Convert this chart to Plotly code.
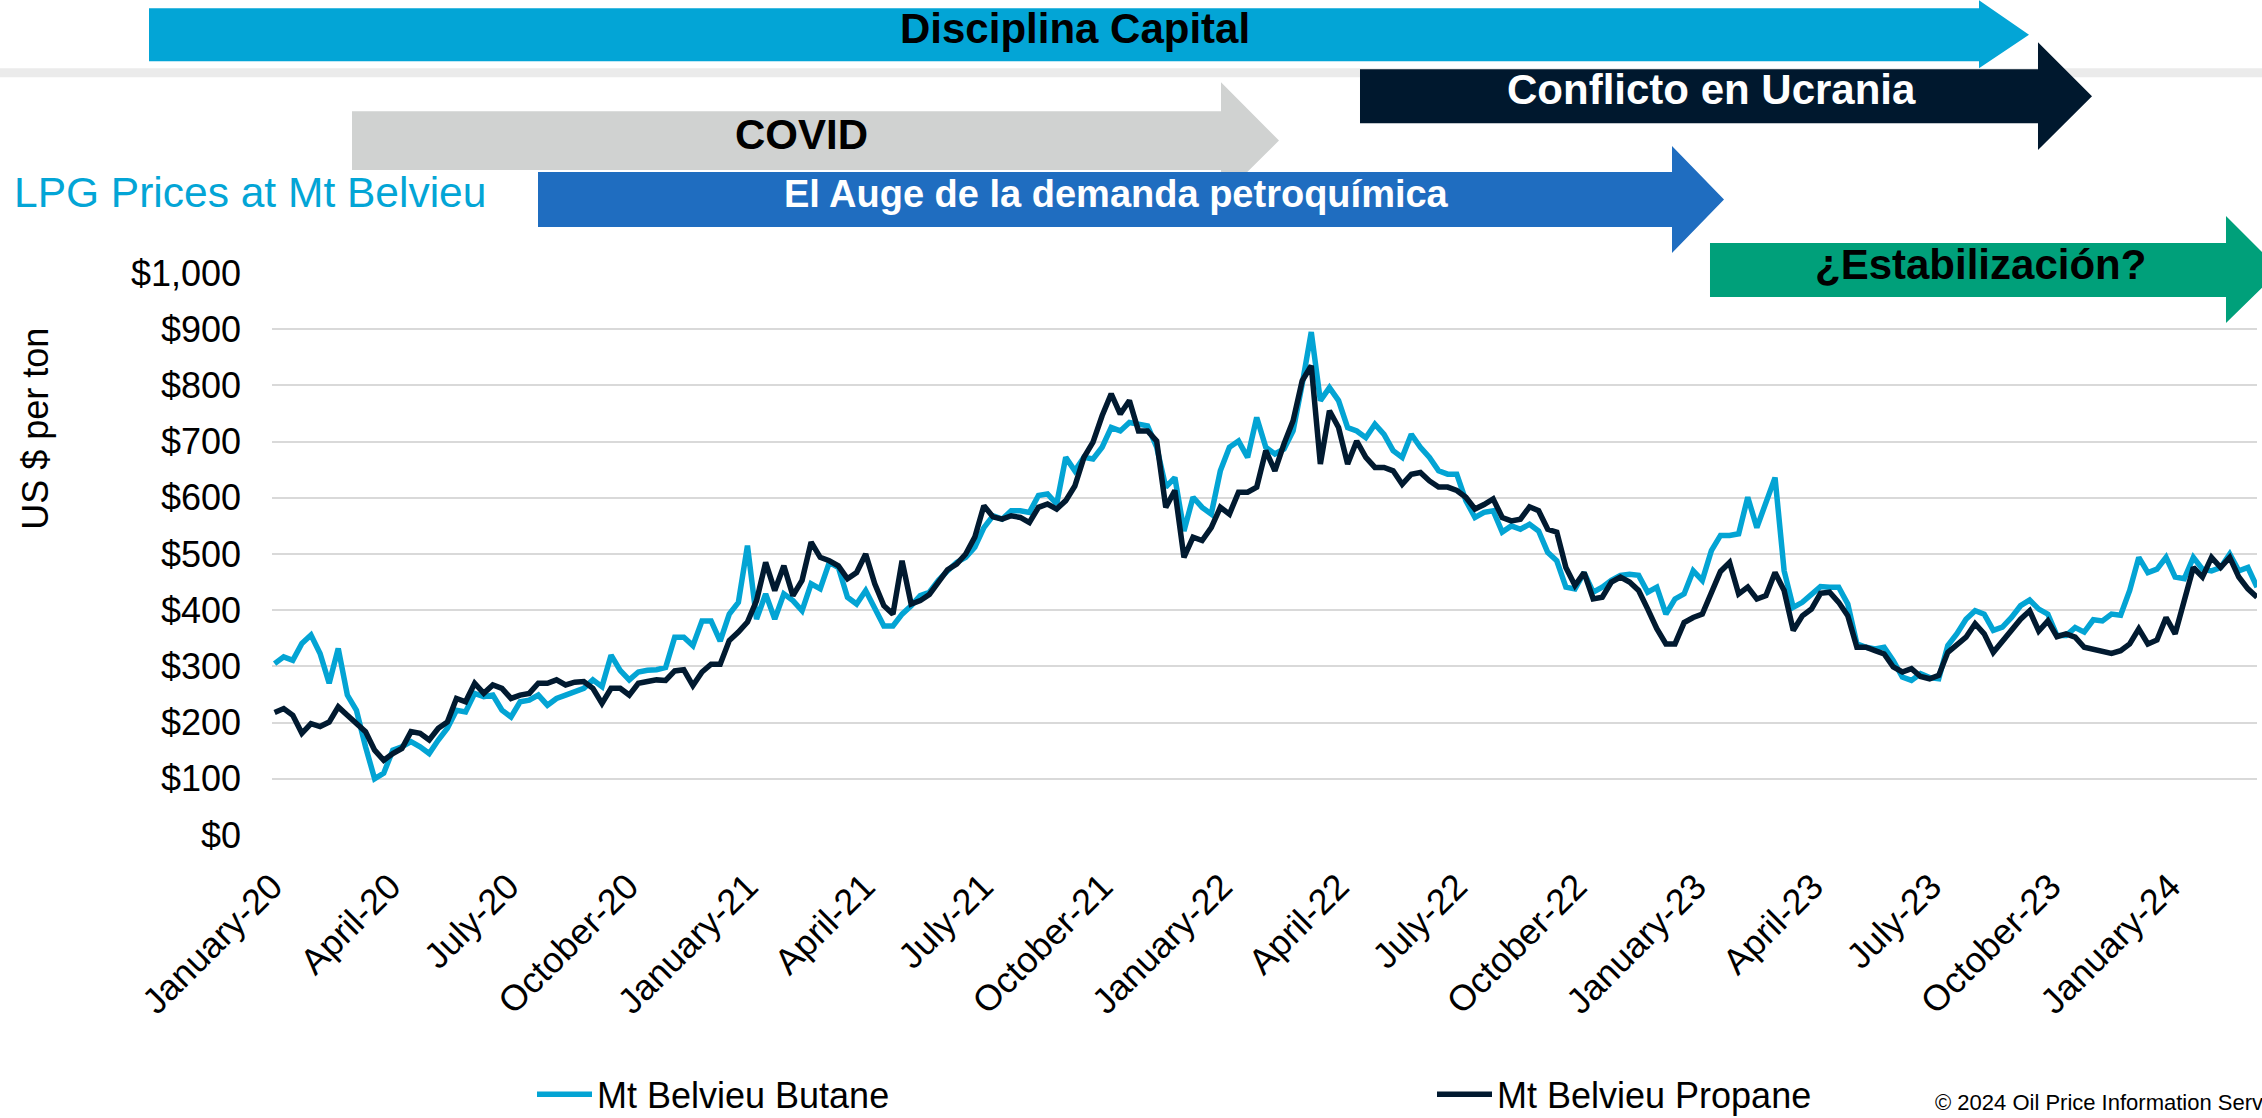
import plotly.graph_objects as go
import pandas as pd

# ---------------- data (weekly readings, US$ per ton) ----------------
start_date = "2020-01-03"
n_weeks = 219

butane = [
    305, 317, 311, 341, 356, 323, 270, 332, 249, 222, 157, 100, 110, 151, 157, 166, 157, 145, 169, 190,
    222, 219, 252, 246, 249, 222, 210, 237, 240, 249, 231, 243, 249, 255, 261, 276, 264, 320, 293, 276,
    290, 293, 294,
    298, 352, 352, 337, 381, 381, 345, 393, 414, 515, 384, 429, 384, 429, 417, 399, 447, 438, 485, 476,
    423, 411, 435, 402, 372, 372, 393, 408, 426, 432, 453, 470, 485, 494, 512, 547, 568, 562, 577, 577,
    574, 604, 607, 589,
    672, 648, 672, 669, 690, 725, 719, 734, 731, 728, 690, 619, 636, 541, 601, 583, 571, 648, 690, 701,
    672, 743, 690, 678, 687, 719, 802, 895, 773, 796, 773, 725, 719, 707, 731, 713, 684, 672, 713, 690,
    672, 648, 642, 642,
    595, 565, 574, 577, 539, 550, 544, 553, 541, 503, 488, 441, 438, 467, 432, 441, 453, 462, 464, 462,
    432, 441, 393, 420, 429, 470, 453, 506, 533, 533, 536, 601, 547, 589, 636, 470, 405, 414, 429, 442,
    441, 441, 411, 340,
    334, 331, 334, 310, 281, 275, 287, 280, 278, 337, 358, 384, 399, 393, 364, 370, 387, 408, 418, 402,
    393, 355, 355, 369, 361, 383, 381, 393, 391, 435, 494, 467, 473, 494, 459, 456, 494, 473, 470, 476,
    500, 470, 476, 441,
]

propane = [
    218, 225, 213, 181, 198, 193, 201, 228, 213, 198, 184, 151, 133, 145, 154, 184, 181, 169, 190, 201,
    243, 237, 270, 252, 267, 261, 243, 249, 252, 270, 270, 276, 267, 272, 273, 261, 234, 261, 261, 249,
    270, 273, 276,
    275, 292, 294, 266, 290, 304, 304, 346, 361, 379, 417, 485, 435, 479, 426, 453, 521, 494, 488, 479,
    456, 467, 500, 447, 408, 393, 488, 411, 417, 428, 450, 472, 482, 500, 530, 586, 566, 562, 568, 565,
    556, 583, 589, 580,
    595, 621, 672, 699, 746, 785, 749, 773, 719, 719, 701, 583, 613, 494, 530, 524, 547, 583, 571, 610,
    610, 619, 684, 648, 696, 737, 808, 835, 660, 755, 725, 660, 701, 672, 654, 654, 648, 624, 642, 645,
    630, 619, 619, 613,
    601, 580, 588, 598, 565, 559, 562, 584, 577, 544, 539, 476, 444, 467, 420, 423, 450, 459, 450, 435,
    402, 367, 340, 340, 378, 387, 393, 429, 469, 485, 429, 441, 420, 426, 467, 435, 364, 390, 402, 430,
    432, 414, 390, 334,
    334, 328, 322, 299, 290, 296, 282, 278, 284, 325, 340, 352, 376, 358, 325, 346, 367, 384, 399, 363,
    381, 353, 358, 352, 334, 331, 326, 323, 328, 340, 367, 340, 347, 387, 358, 420, 476, 459, 494, 476,
    494, 459, 438, 423,
]

tick_dates = ["2020-01-01", "2020-04-01", "2020-07-01", "2020-10-01",
              "2021-01-01", "2021-04-01", "2021-07-01", "2021-10-01",
              "2022-01-01", "2022-04-01", "2022-07-01", "2022-10-01",
              "2023-01-01", "2023-04-01", "2023-07-01", "2023-10-01",
              "2024-01-01"]
tick_labels = ["January-20", "April-20", "July-20", "October-20",
               "January-21", "April-21", "July-21", "October-21",
               "January-22", "April-22", "July-22", "October-22",
               "January-23", "April-23", "July-23", "October-23",
               "January-24"]
y_ticks = [0, 100, 200, 300, 400, 500, 600, 700, 800, 900, 1000]
y_labels = ["$0", "$100", "$200", "$300", "$400", "$500", "$600", "$700", "$800", "$900", "$1,000"]

dates = pd.date_range(start_date, periods=n_weeks, freq="7D")

# ---------------- layout geometry (pixels) ----------------
W, H = 2262, 1118
PL, PR, PT, PB = 272, 2257, 273, 835.5
FONT = "Liberation Sans, Arial, sans-serif"

def px(x):
    return (x - PL) / (PR - PL)

def py(y):
    return (PB - y) / (PB - PT)

def poly(points):
    return "M " + " L ".join(f"{px(x):.5f},{py(y):.5f}" for x, y in points) + " Z"

def arrow(x0, x1, y0, y1, hy0, hy1, tip):
    yc = (y0 + y1) / 2
    return poly([(x0, y0), (x1, y0), (x1, hy0), (tip, yc), (x1, hy1), (x1, y1), (x0, y1)])

C_BUT = "#03A4D4"
C_PRO = "#011A30"

fig = go.Figure()
fig.add_trace(go.Scatter(x=dates, y=butane, mode="lines", name="Mt Belvieu Butane",
                         line=dict(color=C_BUT, width=5.5)))
fig.add_trace(go.Scatter(x=dates, y=propane, mode="lines", name="Mt Belvieu Propane",
                         line=dict(color=C_PRO, width=5.5)))

shapes = [
    dict(type="rect", xref="paper", yref="paper", x0=px(0), x1=px(W), y0=py(68), y1=py(77),
         fillcolor="#EBEBEB", line=dict(width=0), layer="above"),
    dict(type="path", xref="paper", yref="paper", path=arrow(149, 1979, 8, 61, 0, 68, 2029),
         fillcolor="#03A5D6", line=dict(width=0), layer="above"),
    dict(type="path", xref="paper", yref="paper", path=arrow(1360, 2038, 69, 123, 42, 150, 2092),
         fillcolor="#00182E", line=dict(width=0), layer="above"),
    dict(type="path", xref="paper", yref="paper", path=arrow(352, 1221, 111, 170, 82, 198, 1279),
         fillcolor="#D0D2D1", line=dict(width=0), layer="above"),
    dict(type="path", xref="paper", yref="paper", path=arrow(538, 1672, 172, 227, 146, 253, 1724),
         fillcolor="#1F6DC0", line=dict(width=0), layer="above"),
    dict(type="path", xref="paper", yref="paper", path=arrow(1710, 2226, 243, 297, 216, 323, 2280),
         fillcolor="#00A07A", line=dict(width=0), layer="above"),
]

def ann(text, x, y, size, color, bold=False, xanchor="center", yanchor="middle", angle=0):
    t = f"<b>{text}</b>" if bold else text
    return dict(text=t, xref="paper", yref="paper", x=px(x), y=py(y), showarrow=False,
                xanchor=xanchor, yanchor=yanchor, textangle=angle,
                font=dict(family=FONT, size=size, color=color))

annotations = [
    ann("Disciplina Capital", 1075, 28, 42, "#000000", bold=True),
    ann("Conflicto en Ucrania", 1711, 89, 42, "#FFFFFF", bold=True),
    ann("COVID", 801, 134, 42, "#000000", bold=True),
    ann("El Auge de la demanda petroquímica", 1116, 194, 38, "#FFFFFF", bold=True),
    ann("¿Estabilización?", 1980, 264, 42, "#000000", bold=True),
    ann("LPG Prices at Mt Belvieu", 12, 192, 42.5, "#03A5D6", xanchor="left"),
    ann("US $ per ton", 36, 429, 36, "#000000", angle=-90),
    ann("© 2024 Oil Price Information Service", 1933, 1103, 22, "#000000",
        xanchor="left", yanchor="middle"),
]

fig.update_layout(
    width=W, height=H,
    margin=dict(l=PL, r=W - PR, t=PT, b=H - PB, pad=0, autoexpand=False),
    paper_bgcolor="white", plot_bgcolor="white",
    font=dict(family=FONT, size=36, color="#000000"),
    shapes=shapes, annotations=annotations,
    showlegend=True,
    legend=dict(orientation="h", x=px(532), y=py(1095), xanchor="left", yanchor="middle",
                entrywidth=830, entrywidthmode="pixels", itemwidth=55,
                font=dict(family=FONT, size=36, color="#000000"), bgcolor="rgba(0,0,0,0)"),
    xaxis=dict(type="date", range=["2020-01-01", "2024-03-08"], tickvals=tick_dates,
               ticktext=tick_labels, tickangle=-45, showgrid=False, zeroline=False,
               showline=False, ticks="", tickfont=dict(family=FONT, size=36, color="#000000"),
               ticklabelstandoff=22),
    yaxis=dict(range=[0, 1000], tickvals=y_ticks, ticktext=y_labels,
               showgrid=True, gridcolor="#D9D9D9", gridwidth=2, zeroline=False,
               showline=False, ticks="", tickfont=dict(family=FONT, size=36, color="#000000"),
               ticklabelstandoff=30),
)

fig.write_html("out.html", config={"displayModeBar": False},
               post_script="document.body.style.margin='0';document.body.style.overflow='hidden';")
